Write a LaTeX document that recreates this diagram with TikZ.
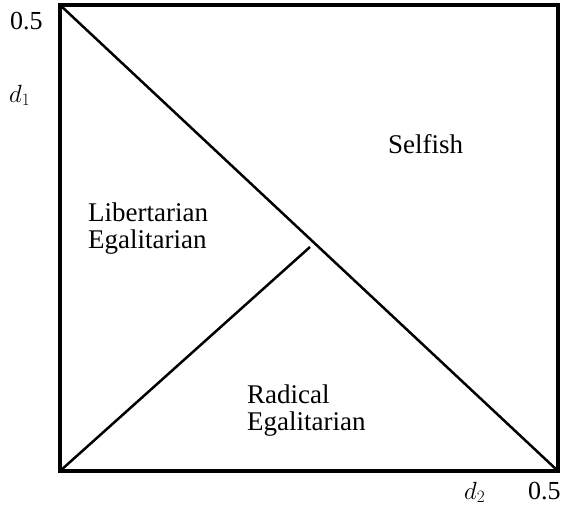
\documentclass[tikz,border=0pt]{standalone}
\usepackage{fontspec}
\setmainfont{Liberation Serif}
\usetikzlibrary{positioning}

\begin{document}
\begin{tikzpicture}[
  x=1pt, y=-1pt,
  frame/.style={line width=4pt, line join=miter},
  border/.style={line width=2.5pt},
  region/.style={align=left, inner sep=0pt, font=\fontsize{27}{27}\selectfont},
  tick/.style={anchor=base west, inner sep=0pt, font=\fontsize{26}{26}\selectfont}
]
\useasboundingbox (0,0) rectangle (563,514);
% corners of the (d2,d1) square
\coordinate (sw) at (60,471);
\coordinate (nw) at (60,5);
\coordinate (ne) at (558,5);
\coordinate (se) at (558,471);
\coordinate (split) at (310,247);

\draw[frame] (sw) -- (nw) -- (ne) -- (se) -- cycle;
\draw[border] (nw) -- (se);
\draw[border] (sw) -- (split);

% axis labels
\node[tick] (d1max) at (10,30) {0.5};
\node[tick] (d1) at (9,102) {$d_1$};
\node[tick] (d2) at (464,499) {$d_2$};
\node[tick] (d2max) at (528,499) {0.5};

% regions
\node[region, anchor=base west] (selfish) at (388,153) {Selfish};
\node[region, anchor=north west] (libeg) at (88,203) {Libertarian\\Egalitarian};
\node[region, anchor=north west] (radeg) at (247,385) {Radical\\Egalitarian};
\end{tikzpicture}
\end{document}
